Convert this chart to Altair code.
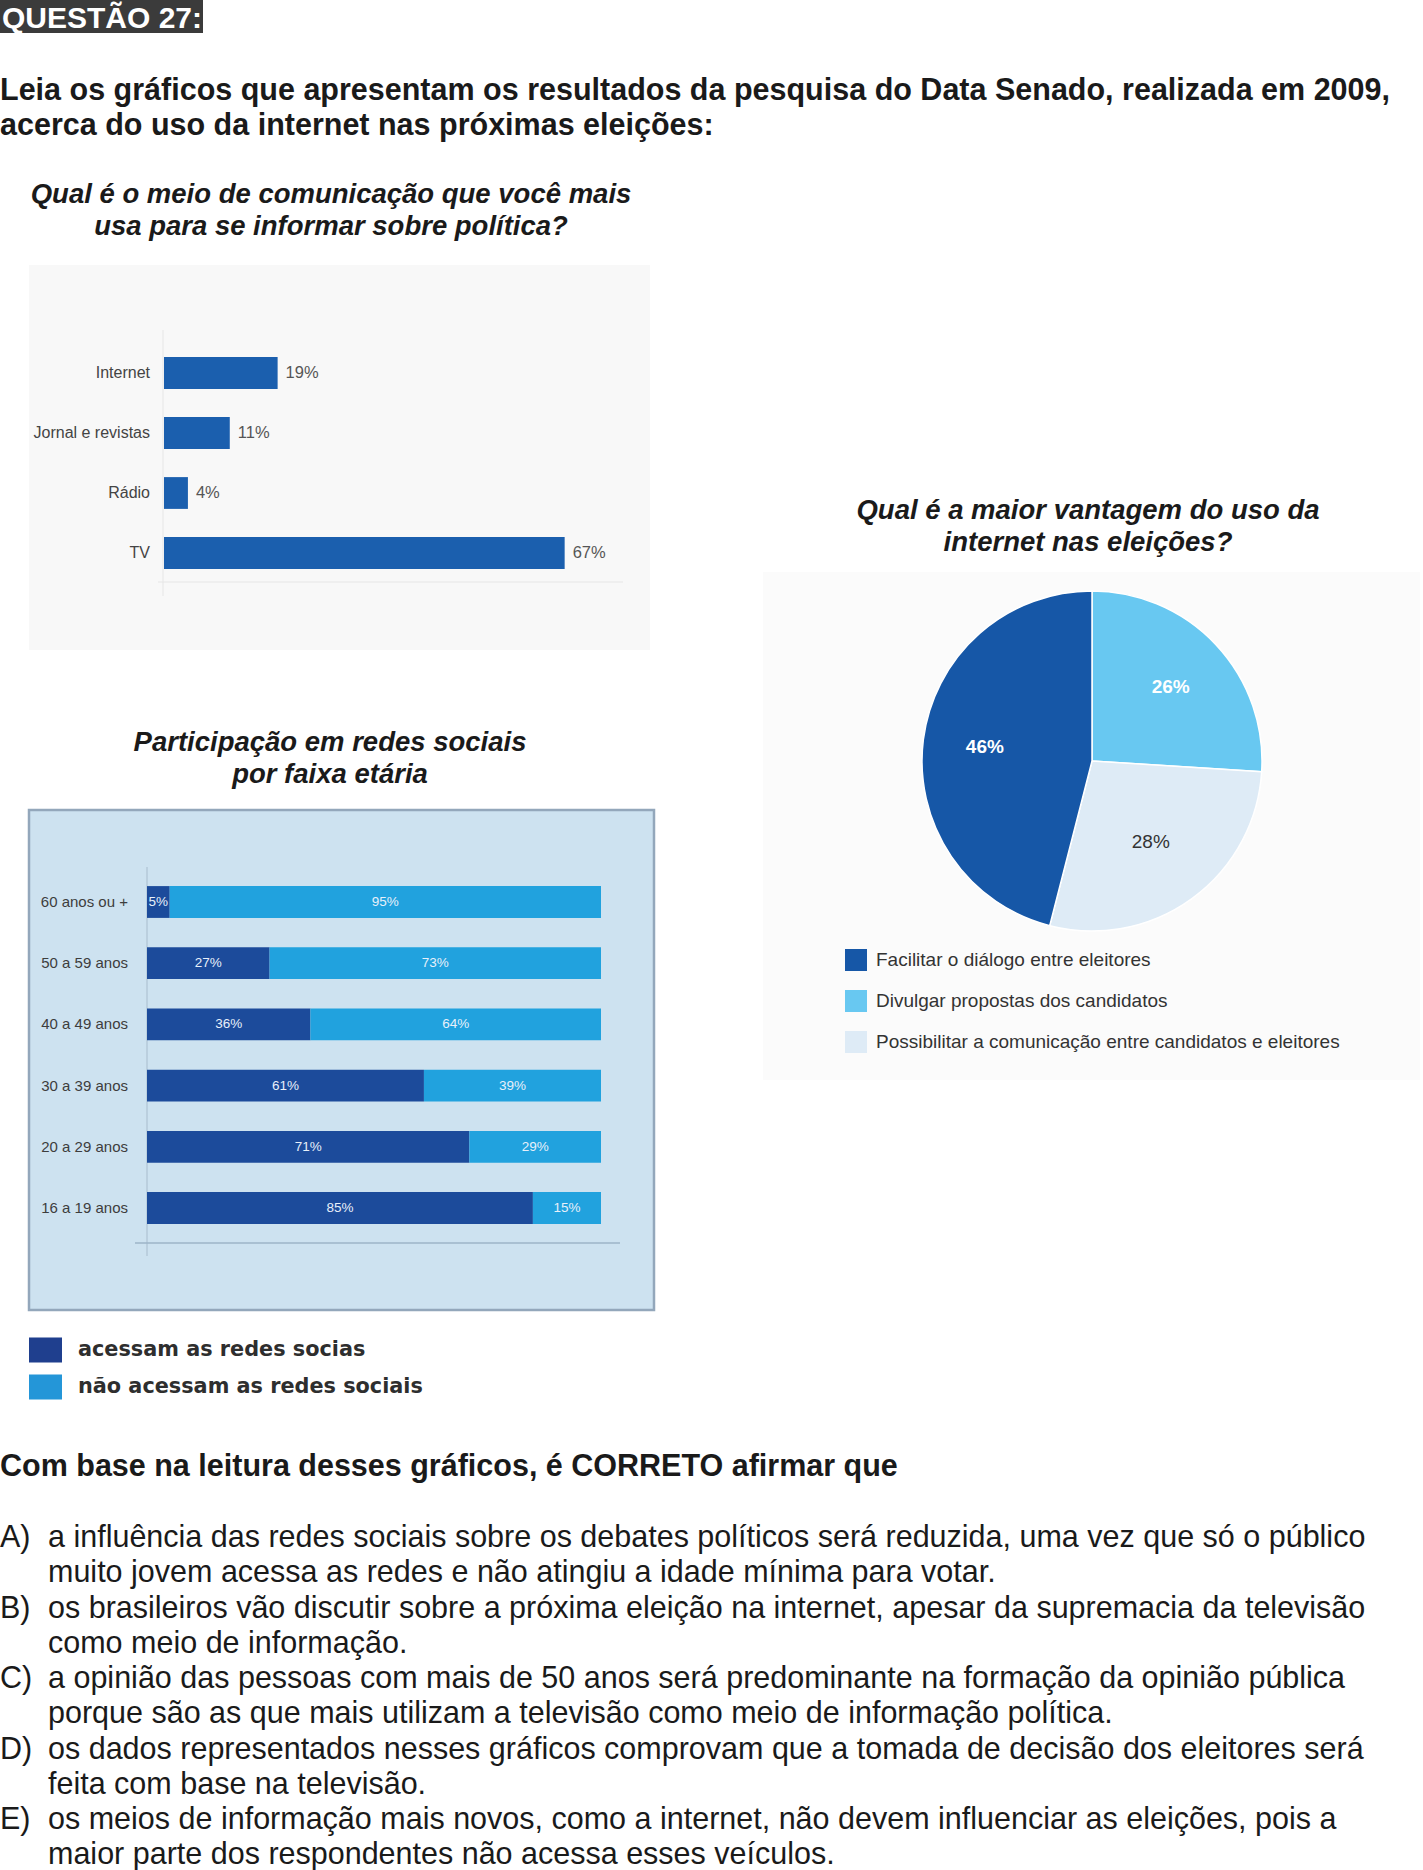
import altair as alt
import pandas as pd

# ---------------- data ----------------
questao = "QUESTÃO 27:"
enunciado = [
    "Leia os gráficos que apresentam os resultados da pesquisa do Data Senado, realizada em 2009,",
    "acerca do uso da internet nas próximas eleições:",
]
titulo1 = ["Qual é o meio de comunicação que você mais", "usa para se informar sobre política?"]
titulo2 = ["Participação em redes sociais", "por faixa etária"]
titulo3 = ["Qual é a maior vantagem do uso da", "internet nas eleições?"]

meios = ["Internet", "Jornal e revistas", "Rádio", "TV"]
meios_pct = [19, 11, 4, 67]

faixas = ["60 anos ou +", "50 a 59 anos", "40 a 49 anos", "30 a 39 anos", "20 a 29 anos", "16 a 19 anos"]
acessam = [5, 27, 36, 61, 71, 85]
nao_acessam = [95, 73, 64, 39, 29, 15]
series2 = ["acessam as redes socias", "não acessam as redes sociais"]

vantagens = [
    "Facilitar o diálogo entre eleitores",
    "Divulgar propostas dos candidatos",
    "Possibilitar a comunicação entre candidatos e eleitores",
]
vantagens_pct = [46, 26, 28]
ordem_pizza = [
    "Divulgar propostas dos candidatos",
    "Possibilitar a comunicação entre candidatos e eleitores",
    "Facilitar o diálogo entre eleitores",
]

pergunta = "Com base na leitura desses gráficos, é CORRETO afirmar que"
letras = ["A)", "B)", "C)", "D)", "E)"]
alternativas = [
    ["a influência das redes sociais sobre os debates políticos será reduzida, uma vez que só o público",
     "muito jovem acessa as redes e não atingiu a idade mínima para votar."],
    ["os brasileiros vão discutir sobre a próxima eleição na internet, apesar da supremacia da televisão",
     "como meio de informação."],
    ["a opinião das pessoas com mais de 50 anos será predominante na formação da opinião pública",
     "porque são as que mais utilizam a televisão como meio de informação política."],
    ["os dados representados nesses gráficos comprovam que a tomada de decisão dos eleitores será",
     "feita com base na televisão."],
    ["os meios de informação mais novos, como a internet, não devem influenciar as eleições, pois a",
     "maior parte dos respondentes não acessa esses veículos."],
]

# ---------------- helpers ----------------
FONT = "Liberation Sans"
BODY = 30.5
one = pd.DataFrame({"k": [0]})


def deco_rect(x, x2, y, y2, fill, stroke=None, sw=0):
    kw = dict(fill=fill)
    if stroke:
        kw.update(stroke=stroke, strokeWidth=sw)
    return alt.Chart(one).mark_rect(**kw).encode(
        x=alt.value(x), x2=alt.value(x2), y=alt.value(y), y2=alt.value(y2))


def rule(x, x2, y, y2, color, w=1):
    return alt.Chart(one).mark_rule(color=color, strokeWidth=w).encode(
        x=alt.value(x), x2=alt.value(x2), y=alt.value(y), y2=alt.value(y2))


def text_block(lines, x, y, size, align="left", weight="normal", style="normal",
               color="#111", lh=None, font=FONT):
    return alt.Chart(one).mark_text(
        text=lines, align=align, baseline="alphabetic", font=font, fontSize=size,
        fontWeight=weight, fontStyle=style, color=color, lineHeight=lh or size * 1.15,
    ).encode(x=alt.value(x), y=alt.value(y))


layers = []

# ---------------- header ----------------
layers.append(deco_rect(0, 203, 0, 33, "#3b3b3b"))
layers.append(text_block(questao, 2, 28, 30, weight="bold", color="#ffffff"))
layers.append(text_block(enunciado, 0, 100, BODY, weight="bold", color="#1a1a1a", lh=34.5))

# ---------------- chart 1: bars ----------------
layers.append(text_block(titulo1, 331, 203, 27.5, align="center", weight="bold",
                         style="italic", color="#1a1a1a", lh=32))
layers.append(deco_rect(29, 650, 265, 650, "#f8f8f8"))
layers.append(rule(163, 163, 330, 596, "#e6e6e6"))
layers.append(rule(158, 623, 582, 582, "#e6e6e6"))

df1 = pd.DataFrame({"meio": meios, "pct": meios_pct})
df1["rot"] = df1["pct"].astype(str) + "%"
x1 = alt.Scale(domain=[0, 100], range=[164, 762])
y1 = alt.Scale(domain=meios, range=[343, 583], paddingInner=0.47, paddingOuter=0.235)
base1 = alt.Chart(df1)
layers.append(base1.mark_bar(color="#1b5fae").encode(
    x=alt.X("pct:Q", scale=x1, axis=None), y=alt.Y("meio:N", scale=y1, axis=None)))
layers.append(base1.mark_text(align="right", baseline="middle", font=FONT, fontSize=16,
                              color="#444444").encode(
    x=alt.value(150), y=alt.Y("meio:N", scale=y1, axis=None), text="meio:N"))
layers.append(base1.mark_text(align="left", baseline="middle", dx=8, font=FONT, fontSize=16.5,
                              color="#555555").encode(
    x=alt.X("pct:Q", scale=x1, axis=None), y=alt.Y("meio:N", scale=y1, axis=None), text="rot:N"))

# ---------------- chart 2: stacked bars ----------------
layers.append(text_block(titulo2, 330, 751, 27.5, align="center", weight="bold",
                         style="italic", color="#1a1a1a", lh=32))
layers.append(deco_rect(29, 654, 810, 1310, "#cde2f0", stroke="#93a7bb", sw=2.5))
layers.append(rule(147, 147, 867, 1256, "#a8bccd"))
layers.append(rule(135, 620, 1243, 1243, "#9db4c8", 1.5))

rows = []
for f, a, n in zip(faixas, acessam, nao_acessam):
    rows.append({"faixa": f, "serie": series2[0], "start": 0, "end": a, "pct": a})
    rows.append({"faixa": f, "serie": series2[1], "start": a, "end": a + n, "pct": n})
df2 = pd.DataFrame(rows)
df2["mid"] = (df2["start"] + df2["end"]) / 2
df2["rot"] = df2["pct"].astype(str) + "%"
x2s = alt.Scale(domain=[0, 100], range=[147, 601])
y2s = alt.Scale(domain=faixas, range=[871.4, 1238.6], paddingInner=0.48, paddingOuter=0.24)
c2 = alt.Scale(domain=series2, range=["#1c4b9b", "#21a2de"])
base2 = alt.Chart(df2)
layers.append(base2.mark_bar().encode(
    x=alt.X("start:Q", scale=x2s, axis=None), x2="end:Q",
    y=alt.Y("faixa:N", scale=y2s, axis=None),
    color=alt.Color("serie:N", scale=c2, legend=None)))
layers.append(base2.mark_text(baseline="middle", font=FONT, fontSize=13.5, color="#e8f0fa").encode(
    x=alt.X("mid:Q", scale=x2s, axis=None), y=alt.Y("faixa:N", scale=y2s, axis=None), text="rot:N"))
dfl = pd.DataFrame({"faixa": faixas})
layers.append(alt.Chart(dfl).mark_text(align="right", baseline="middle", font=FONT, fontSize=15,
                                       color="#3d3d3d").encode(
    x=alt.value(128), y=alt.Y("faixa:N", scale=y2s, axis=None), text="faixa:N"))

# legend chart 2
dfleg2 = pd.DataFrame({"serie": series2})
yl2 = alt.Scale(domain=series2, range=[1331.5, 1405.5], paddingInner=0.324, paddingOuter=0.162)
layers.append(alt.Chart(dfleg2).mark_rect().encode(
    x=alt.value(29), x2=alt.value(62), y=alt.Y("serie:N", scale=yl2, axis=None),
    color=alt.Color("serie:N", scale=alt.Scale(domain=series2, range=["#1f3f8e", "#2496d8"]), legend=None)))
layers.append(alt.Chart(dfleg2).mark_text(align="left", baseline="middle", font="DejaVu Sans",
                                          fontWeight="bold", fontSize=20.8, color="#2e2e2e").encode(
    x=alt.value(78), y=alt.Y("serie:N", scale=yl2, axis=None), text="serie:N"))

# ---------------- chart 3: pie ----------------
layers.append(text_block(titulo3, 1088, 519, 27.5, align="center", weight="bold",
                         style="italic", color="#1a1a1a", lh=32))
layers.append(deco_rect(763, 1420, 572, 1080, "#fbfbfb"))

pct_map = dict(zip(vantagens, vantagens_pct))
dfp = pd.DataFrame({"cat": ordem_pizza, "pct": [pct_map[c] for c in ordem_pizza]})
dfp["end"] = dfp["pct"].cumsum()
dfp["start"] = dfp["end"] - dfp["pct"]
dfp["mid"] = (dfp["start"] + dfp["end"]) / 2
dfp["rot"] = dfp["pct"].astype(str) + "%"
th = alt.Scale(domain=[0, 100], range=[0, 6.283185307])
cp = alt.Scale(domain=vantagens, range=["#1657a7", "#68c8f1", "#deebf6"])
CX, CY = 1092, 761
layers.append(alt.Chart(dfp).mark_arc(outerRadius=170, stroke="#ffffff", strokeWidth=1.5).encode(
    theta=alt.Theta("start:Q", scale=th), theta2="end:Q",
    color=alt.Color("cat:N", scale=cp, legend=None),
    x=alt.value(CX), y=alt.value(CY)))
dark_lbl = dfp[dfp["cat"] != vantagens[2]]
light_lbl = dfp[dfp["cat"] == vantagens[2]]
layers.append(alt.Chart(dark_lbl).mark_text(radius=108, font=FONT, fontSize=19, fontWeight="bold",
                                            color="#ffffff").encode(
    theta=alt.Theta("mid:Q", scale=th, stack=False), x=alt.value(CX), y=alt.value(CY), text="rot:N"))
layers.append(alt.Chart(light_lbl).mark_text(radius=100, font=FONT, fontSize=19,
                                             color="#333333").encode(
    theta=alt.Theta("mid:Q", scale=th, stack=False), x=alt.value(CX), y=alt.value(CY), text="rot:N"))

# legend chart 3
dfleg3 = pd.DataFrame({"cat": vantagens})
yl3 = alt.Scale(domain=vantagens, range=[939.5, 1062.5], paddingInner=0.463, paddingOuter=0.232)
layers.append(alt.Chart(dfleg3).mark_rect().encode(
    x=alt.value(845), x2=alt.value(867), y=alt.Y("cat:N", scale=yl3, axis=None),
    color=alt.Color("cat:N", scale=cp, legend=None)))
layers.append(alt.Chart(dfleg3).mark_text(align="left", baseline="middle", font=FONT, fontSize=19,
                                          color="#333333").encode(
    x=alt.value(876), y=alt.Y("cat:N", scale=yl3, axis=None), text="cat:N"))

# ---------------- question text ----------------
layers.append(text_block(pergunta, 0, 1476, BODY, weight="bold", color="#1a1a1a"))
linhas = [l for par in alternativas for l in par]
dfo = pd.DataFrame({"i": list(range(len(linhas))), "linha": linhas})
yo = alt.Scale(type="point", domain=list(range(len(linhas))), range=[1547, 1864.25], padding=0)
layers.append(alt.Chart(dfo).mark_text(align="left", baseline="alphabetic", font=FONT, fontSize=BODY,
                                       color="#1a1a1a").encode(
    x=alt.value(48), y=alt.Y("i:O", scale=yo, axis=None), text="linha:N"))
dfletra = pd.DataFrame({"i": [2 * k for k in range(len(letras))], "letra": letras})
layers.append(alt.Chart(dfletra).mark_text(align="left", baseline="alphabetic", font=FONT, fontSize=BODY,
                                           color="#1a1a1a").encode(
    x=alt.value(0), y=alt.Y("i:O", scale=yo, axis=None), text="letra:N"))

chart = alt.layer(*layers).resolve_scale(
    x="independent", y="independent", color="independent", theta="independent"
).properties(
    width=1423, height=1870, padding=0, autosize=alt.AutoSizeParams(type="none"),
    background="#ffffff",
).configure_view(stroke=None)

chart.save("out.html", embed_options={"renderer": "svg", "actions": False})
